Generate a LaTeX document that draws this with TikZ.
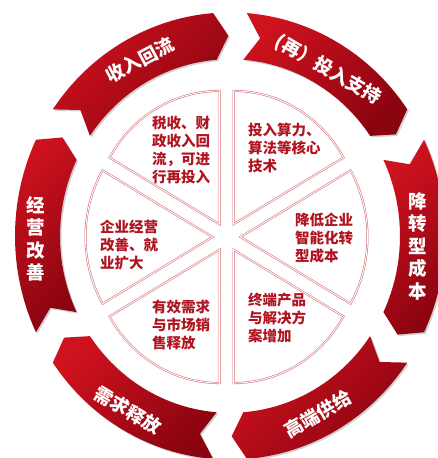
\documentclass[tikz,border=0pt]{standalone}
\usepackage{fontspec}
\setmainfont{Noto Sans CJK SC}
\usetikzlibrary{shadows}
\definecolor{ringlight}{RGB}{206,18,30}
\definecolor{ringdark}{RGB}{138,4,16}
\definecolor{wedgeline}{RGB}{212,110,116}
\definecolor{wedgetext}{RGB}{176,20,32}
\tikzset{
  ribbon/.style={left color=ringlight, right color=ringdark, shading angle=45, draw=none,
    drop shadow={shadow xshift=1.5pt, shadow yshift=-1.5pt, opacity=0.18, fill=black}},
  wedge/.style={draw=wedgeline, line width=0.55pt, double=white, double distance=0.9pt, fill=white},
  wedgelabel/.style={text=wedgetext, font=\bfseries\fontsize{14.5}{18}\selectfont, align=left, anchor=west, inner sep=0pt},
  ringlabel/.style={text=white, font=\bfseries\fontsize{18.5}{22.5}\selectfont, inner sep=0pt, align=center},
}
\newcommand\ribbonpath[2]{%
  \path[ribbon] (#1-4.5:215) arc[start angle=#1-4.5, end angle=#2+4.5, radius=215]
    -- (#2+0.5:192.5) -- (#2+4.5:170) arc[start angle=#2+4.5, end angle=#1-4.5, radius=170]
    -- (#1-9:192.5) -- cycle;}
\begin{document}
\begin{tikzpicture}[x=1pt,y=1pt]
\clip (0,0) rectangle (438,-458);
\fill[white] (0,0) rectangle (438,-458);

% outer ring of ribbon arrows
\begin{scope}[shift={(230,-236)}, yscale=1.04]
  \ribbonpath{150}{90}
  \ribbonpath{90}{30}
  \ribbonpath{30}{-30}
  \ribbonpath{-30}{-90}
  \ribbonpath{-90}{-150}
  \ribbonpath{-150}{-210}
\end{scope}

% exploded pie
\begin{scope}[shift={(226.5,-237)}, yscale=1.05]
  \foreach \a in {90,30,-30,-90,-150,150} {
    \begin{scope}[shift={(\a+30:14)}]
      \draw[wedge] (0,0) -- (\a:127) arc[start angle=\a, end angle=\a+60, radius=127] -- cycle;
    \end{scope}
  }
\end{scope}

% ring labels
\node[ringlabel, rotate=28] (r1) at (140,-60) {收入回流};
\node[ringlabel, rotate=-30] (r2) at (328,-70) {(再）投入支持};
\node[ringlabel] (r3) at (418,-246) {降\\转\\型\\成\\本};
\node[ringlabel, rotate=30] (r4) at (318,-414) {高端供给};
\node[ringlabel, rotate=-31] (r5) at (128,-410) {需求释放};
\node[ringlabel] (r6) at (35.5,-239) {经\\营\\改\\善};

% wedge labels
\node[wedgelabel] (w1) at (152,-149.5) {税收、财\\政收入回\\流，可进\\行再投入};
\node[wedgelabel] (w2) at (248,-147.5) {投入算力、\\算法等核心\\技术};
\node[wedgelabel] (w3) at (295,-238) {降低企业\\智能化转\\型成本};
\node[wedgelabel] (w4) at (248,-318) {终端产品\\与解决方\\案增加};
\node[wedgelabel] (w5) at (152,-325) {有效需求\\与市场销\\售释放};
\node[wedgelabel] (w6) at (100,-245) {企业经营\\改善、就\\业扩大};
\end{tikzpicture}
\end{document}
